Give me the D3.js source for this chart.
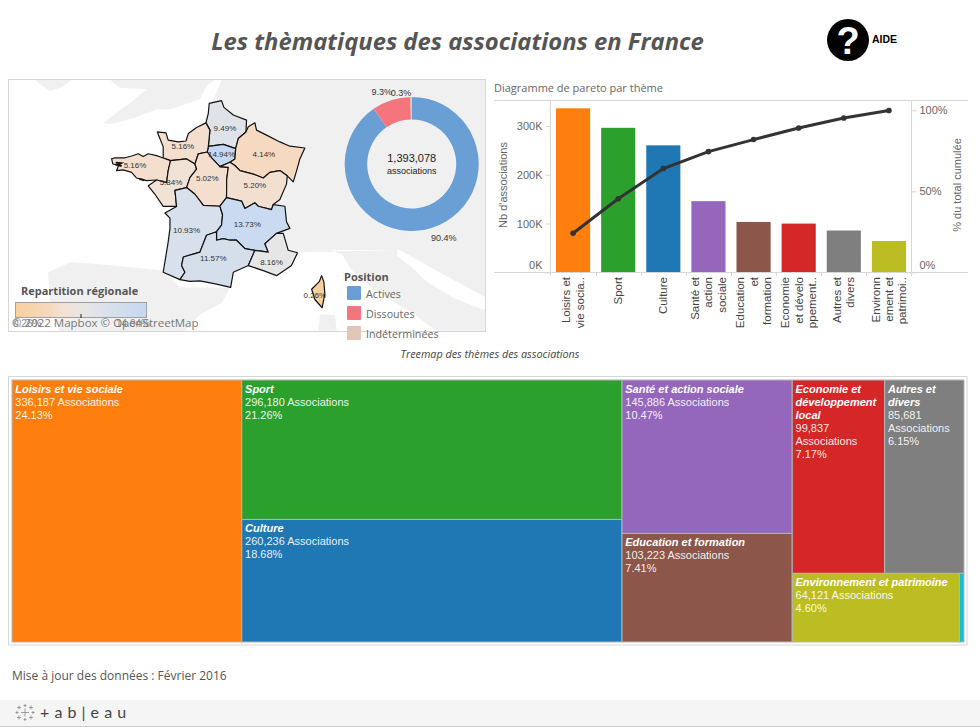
<!DOCTYPE html>
<html>
<head>
<meta charset="utf-8">
<script src="https://cdnjs.cloudflare.com/ajax/libs/d3/7.8.5/d3.min.js"></script>
<style>
body { margin: 0; background: #fff; }
svg { display: block; }
text { font-family: "Liberation Sans", Arial, sans-serif; }
.os { font-family: "Open Sans", sans-serif; }
</style>
</head>
<body>
<svg id="chart" width="980" height="727"></svg>
<script>
// themes, sorted like the pareto
var themes = ["Loisirs et vie sociale", "Sport", "Culture", "Santé et action sociale", "Education et formation", "Economie et développement local", "Autres et divers", "Environnement et patrimoine"];
var assocCounts = [336187, 296180, 260236, 145886, 103223, 99837, 85681, 64121];
var assocPct = ["24.13%", "21.26%", "18.68%", "10.47%", "7.41%", "7.17%", "6.15%", "4.60%"];
var cumulPct = [24.13, 45.39, 64.07, 74.54, 81.95, 89.12, 95.27, 99.87];
var themeColors = ["#ff7f0e", "#2ca02c", "#1f77b4", "#9467bd", "#8c564b", "#d62728", "#7f7f7f", "#bcbd22"];
var otherCount = 1727; // the small cyan cell, no label on it
var otherColor = "#17becf";

// wrapped labels
var tickLines = [["Loisirs et", "vie socia.."], ["Sport"], ["Culture"], ["Santé et", "action", "sociale"], ["Education", "et", "formation"], ["Economie", "et dévelo", "ppement.."], ["Autres et", "divers"], ["Environn", "ement et", "patrimoi.."]];
var treeNameLines = [["Loisirs et vie sociale"], ["Sport"], ["Culture"], ["Santé et action sociale"], ["Education et formation"], ["Economie et", "développement", "local"], ["Autres et", "divers"], ["Environnement et patrimoine"]];

// donut
var statusNames = ["Actives", "Dissoutes", "Indéterminées"];
var statusPct = [90.4, 9.3, 0.3];
var statusColors = ["#6a9fd6", "#f4757d", "#e0c6b6"];

// regions (lon, lat outlines)
var regionPct = [9.49, 14.94, 4.14, 5.16, 5.16, 5.84, 5.02, 5.20, 10.93, 13.73, 11.57, 8.16, 0.26];
var regionLabelLon = [2.88, 2.65, 5.53, 0.02, -3.24, -0.79, 1.68, 4.92, 0.27, 4.40, 2.09, 6.05, 9.0];
var regionLabelLat = [49.86, 48.72, 48.69, 49.05, 48.21, 47.44, 47.63, 47.30, 45.20, 45.49, 43.82, 43.62, 42.0];
var regionShapes = [
  [[1.81,50.93],[2.65,51.05],[2.81,50.76],[3.45,50.43],[4.35,50.21],[4.31,49.69],[3.79,49.40],[3.61,48.95],[2.77,49.14],[1.75,49.05],[1.86,49.77],[1.59,50.09],[1.75,50.50]],
  [[1.75,49.05],[2.77,49.14],[3.61,48.95],[3.56,48.49],[3.22,48.34],[2.54,48.14],[1.97,48.54],[1.68,48.80]],
  [[3.61,48.95],[3.79,49.40],[4.31,49.69],[4.47,49.92],[4.92,50.09],[5.03,49.77],[5.71,49.55],[6.62,49.25],[7.30,49.06],[8.32,48.98],[7.98,48.49],[7.76,47.96],[7.53,47.44],[7.12,47.72],[6.62,47.96],[5.94,47.88],[5.49,47.62],[4.81,47.80],[3.90,47.96],[3.56,48.19],[3.22,48.34],[3.56,48.49]],
  [[-1.72,49.69],[-1.13,49.65],[-0.98,49.33],[-0.29,49.25],[0.23,49.29],[0.39,49.62],[0.95,49.89],[1.59,50.09],[1.86,49.77],[1.75,49.05],[1.68,48.80],[1.07,48.72],[0.84,48.26],[0.27,48.49],[-0.82,48.41],[-1.32,48.53],[-1.32,49.03]],
  [[-4.83,48.49],[-4.6,48.54],[-3.92,48.54],[-3.47,48.62],[-3.02,48.72],[-2.68,48.6],[-2.34,48.72],[-1.77,48.64],[-1.32,48.53],[-0.82,48.41],[-0.98,47.96],[-1.09,47.41],[-1.77,47.53],[-2.45,47.5],[-3.13,47.62],[-3.47,47.88],[-4.04,47.99],[-4.49,47.96],[-4.35,48.2],[-4.75,48.26]],
  [[-0.82,48.41],[0.27,48.49],[0.84,48.26],[0.95,48.03],[0.50,47.64],[0.27,47.18],[-0.52,47.05],[-0.41,46.30],[-1.32,46.30],[-1.88,46.87],[-2.34,47.26],[-1.77,47.53],[-1.09,47.41],[-0.98,47.96]],
  [[1.07,48.72],[1.68,48.80],[1.97,48.54],[2.54,48.14],[3.11,48.11],[3.0,47.56],[2.99,46.71],[2.54,46.31],[1.41,46.35],[0.84,46.87],[0.27,47.18],[0.50,47.64],[0.95,48.03],[0.84,48.26]],
  [[3.22,48.34],[3.56,48.19],[3.90,47.96],[4.81,47.80],[5.49,47.62],[5.94,47.88],[6.62,47.96],[7.12,47.72],[7.07,47.34],[6.62,46.63],[6.17,46.39],[6.05,46.15],[5.15,46.31],[4.92,46.47],[4.24,46.2],[4.01,46.55],[2.99,46.71],[3.0,47.56],[3.11,48.11],[2.54,48.14]],
  [[-0.52,47.05],[0.27,47.18],[0.84,46.87],[1.41,46.35],[2.54,46.31],[2.72,45.91],[2.65,45.42],[2.31,45.1],[1.63,44.93],[1.18,44.11],[0.05,43.87],[-0.07,43.45],[0.16,43.12],[-0.18,42.75],[-1.32,43.12],[-0.98,44.61],[-0.86,45.26],[-0.86,45.75],[-1.20,45.99],[-0.41,46.30]],
  [[2.54,46.31],[2.99,46.71],[4.01,46.55],[4.24,46.2],[4.92,46.47],[5.15,46.31],[6.05,46.15],[6.17,46.39],[6.96,46.31],[7.07,45.58],[7.3,45.26],[6.39,45.02],[5.6,44.52],[5.83,44.11],[4.92,44.2],[4.24,44.28],[3.67,44.69],[3.22,44.69],[2.77,44.77],[2.31,44.69],[2.31,45.1],[2.65,45.42],[2.72,45.91]],
  [[1.63,44.93],[2.31,45.1],[2.31,44.69],[2.77,44.77],[3.22,44.69],[3.67,44.69],[4.24,44.28],[4.92,44.2],[4.47,43.45],[3.45,43.12],[3.27,42.36],[2.31,42.53],[1.18,42.69],[0.5,42.66],[-0.18,42.75],[0.16,43.12],[-0.07,43.45],[0.05,43.87],[1.18,44.11]],
  [[6.39,45.02],[6.85,45.02],[7.19,44.2],[7.82,44.08],[7.41,43.45],[6.39,42.95],[5.49,43.2],[4.47,43.45],[4.92,44.2],[5.83,44.11],[5.6,44.52]],
  [[9.46,42.95],[9.61,42.65],[9.68,42.05],[9.5,41.33],[9.0,41.75],[8.78,42.27],[9.3,42.65]]
];
// dark blobs on the ragged coast (Brest, Morbihan)
var coastBits = [
  [[-4.55,48.32],[-4.2,48.3],[-4.42,48.22],[-4.15,48.17]],
  [[-2.95,47.58],[-2.6,47.52]]
];
var regionColorStops = [0.26, 4.14, 5.5, 8.16, 14.94];
var regionColorRange = ["#f8d09c", "#f5d9c0", "#f3e1d4", "#e6e6e6", "#c4d8f2"];

// background land
var landShapes = [
  [[-10.04,51.93],[-7.52,51.93],[-8.2,51.63],[-9.02,51.46],[-9.56,51.68]],
  [[-4.94,51.93],[-4.26,51.59],[-2.42,51.55],[-3.71,50.9],[-5.41,50.08],[-4.94,50.03],[-3.37,50.29],[-1.74,50.68],[-0.86,50.68],[1.18,51.12],[1.66,51.7],[2.2,51.93]],
  [[2.68,51.93],[20.64,51.93],[20.64,44.21],[10.91,44.21],[7.99,44.11],[5.95,43.5],[3.22,44.11],[1.86,47.96],[1.52,50.28]],
  [[14.59,44.21],[14.59,43.96],[15.6,43.36],[16.69,42.61],[18.39,41.85],[20.43,41.23],[20.64,41.23],[20.64,40],[17.51,40],[15.81,40.97],[14.45,41.59],[13.09,42.2],[11.52,43.21],[10.84,44.01],[9.69,44.26],[7.99,44.11]],
  [[14.79,44.21],[20.64,44.21],[20.64,41.85],[17.51,43.11]],
  [[-9.16,43.11],[-7.66,43.61],[-5.62,43.51],[-1.33,43.21],[-0.18,42.36],[3.22,42.36],[2.68,41.59],[1.18,40.97],[-0.04,40],[-8.34,40],[-9.02,41.59]],
  [[9.35,40.97],[10.37,40.97],[10.5,40],[9.21,40]]
];

// tableau mark: dx, dy, half size of each little cross
var logoCrosses = [[0,0,4],[-6,-5,2],[6,-5,2],[-6,5,2],[6,5,2],[0,-7,1.5],[0,7,1.5],[-8,0,1.5],[8,0,1.5]];

var svg = d3.select("#chart");
var fmt = d3.format(",");

function drawHeader() {
    svg.append("text").attr("class", "os").attr("x", 457.5).attr("y", 50)
        .attr("text-anchor", "middle").attr("font-size", 23.8).attr("font-weight", 700)
        .attr("font-style", "italic").attr("fill", "#555")
        .text("Les thèmatiques des associations en France");
    svg.append("circle").attr("cx", 848).attr("cy", 40).attr("r", 21).attr("fill", "#000");
    svg.append("text").attr("x", 848).attr("y", 54).attr("text-anchor", "middle")
        .attr("font-size", 38).attr("font-weight", 700).attr("fill", "#fff").text("?");
    svg.append("text").attr("x", 872).attr("y", 43).attr("font-size", 10.5)
        .attr("font-weight", 700).attr("fill", "#000").text("AIDE");
}

function drawMap() {
    var projection = d3.geoMercator().scale(842).translate([182.6, 975.9]);
    var px = function (d) { return projection(d)[0]; };
    var py = function (d) { return projection(d)[1]; };
    var outline = d3.line().x(px).y(py).curve(d3.curveLinearClosed);
    var regionColor = d3.scaleLinear().domain(regionColorStops).range(regionColorRange);

    svg.append("clipPath").attr("id", "mapClip").append("rect")
        .attr("x", 8.5).attr("y", 79.5).attr("width", 477).attr("height", 252);
    var map = svg.append("g").attr("clip-path", "url(#mapClip)");
    map.selectAll(".land").data(landShapes).enter().append("path").attr("class", "land")
        .attr("d", outline).attr("fill", "#f0f0f0");
    map.selectAll(".region").data(regionShapes).enter().append("path").attr("class", "region")
        .attr("d", outline)
        .attr("fill", function (d, i) { return regionColor(regionPct[i]); })
        .attr("stroke", "#111").attr("stroke-width", 1.2).attr("stroke-linejoin", "round");
    map.selectAll(".coast").data(coastBits).enter().append("path").attr("class", "coast")
        .attr("d", d3.line().x(px).y(py))
        .attr("fill", "none").attr("stroke", "#111").attr("stroke-width", 2);

    svg.append("rect").attr("x", 8.5).attr("y", 79.5).attr("width", 477).attr("height", 252)
        .attr("fill", "none").attr("stroke", "#d6d6d6");

    svg.selectAll(".regionLabel").data(regionPct).enter().append("text").attr("class", "regionLabel")
        .attr("x", function (d, i) { return px([regionLabelLon[i], regionLabelLat[i]]); })
        .attr("y", function (d, i) { return py([regionLabelLon[i], regionLabelLat[i]]) + 3; })
        .attr("text-anchor", "middle").attr("font-size", 8).attr("fill", "#333")
        .text(function (d) { return d.toFixed(2) + "%"; });

    // colour legend
    var grad = svg.append("linearGradient").attr("id", "regionGrad");
    regionColorStops.forEach(function (s, i) {
        grad.append("stop").attr("offset", (s - 0.26) / 14.68).attr("stop-color", regionColorRange[i]);
    });
    svg.append("text").attr("class", "os").attr("x", 21).attr("y", 295).attr("font-size", 11)
        .attr("font-weight", 700).attr("fill", "#555").text("Repartition régionale");
    svg.append("rect").attr("x", 15.5).attr("y", 302.5).attr("width", 131).attr("height", 15)
        .attr("fill", "url(#regionGrad)").attr("stroke", "#a0a0a0");
    svg.append("line").attr("x1", 81).attr("x2", 81).attr("y1", 314).attr("y2", 318).attr("stroke", "#222");
    svg.append("text").attr("x", 13).attr("y", 327).attr("font-size", 10).attr("fill", "#888").text("0.26%");
    svg.append("text").attr("x", 116).attr("y", 327).attr("font-size", 10).attr("fill", "#888").text("14.94%");
    svg.append("text").attr("class", "os").attr("x", 12).attr("y", 327).attr("font-size", 11.5).attr("fill", "#777")
        .text("© 2022 Mapbox  © OpenStreetMap");

    // status legend
    svg.append("text").attr("class", "os").attr("x", 344).attr("y", 281).attr("font-size", 11)
        .attr("font-weight", 700).attr("fill", "#555").text("Position");
    var item = svg.selectAll(".status").data(statusNames).enter().append("g").attr("class", "status")
        .attr("transform", function (d, i) { return "translate(347," + (286 + i * 20) + ")"; });
    item.append("rect").attr("width", 14).attr("height", 14).attr("rx", 1)
        .attr("fill", function (d, i) { return statusColors[i]; });
    item.append("text").attr("class", "os").attr("x", 19).attr("y", 11.5).attr("font-size", 10.7)
        .attr("fill", "#666").text(function (d) { return d; });
}

function drawDonut() {
    var arc = d3.arc().innerRadius(44.5).outerRadius(67);
    var pie = d3.pie().sort(null);
    var g = svg.append("g").attr("transform", "translate(411.7,164)");
    g.selectAll("path").data(pie(statusPct)).enter().append("path")
        .attr("d", arc)
        .attr("fill", function (d, i) { return statusColors[i]; });
    g.append("text").attr("y", -2).attr("text-anchor", "middle").attr("font-size", 11).attr("fill", "#222").text(fmt(1393078));
    g.append("text").attr("y", 10).attr("text-anchor", "middle").attr("font-size", 9).attr("fill", "#222").text("associations");

    var labelArc = d3.arc().innerRadius(78).outerRadius(78);
    var nudge = [[9, 3], [-6, 5], [-10, 10]];
    g.selectAll(".pct").data(pie(statusPct)).enter().append("text").attr("class", "pct")
        .attr("transform", function (d, i) {
            var c = labelArc.centroid(d);
            return "translate(" + (c[0] + nudge[i][0]) + "," + (c[1] + nudge[i][1]) + ")";
        })
        .attr("text-anchor", "middle").attr("font-size", 9).attr("fill", "#333")
        .text(function (d) { return d.data + "%"; });
}

function drawPareto() {
    var x = d3.scaleBand().domain(themes).range([550.5, 911.5]).paddingInner(0.244).paddingOuter(0.122);
    var y = d3.scaleLinear().domain([0, 352600]).range([272.3, 100.3]);
    var yPct = d3.scaleLinear().domain([0, 106.2]).range([272.3, 100.3]);
    var grey = "#d6d6d6";

    svg.append("text").attr("class", "os").attr("x", 494).attr("y", 92).attr("font-size", 11)
        .attr("fill", "#666").text("Diagramme de pareto par thème");

    svg.selectAll(".bar").data(themes).enter().append("rect").attr("class", "bar")
        .attr("x", function (d) { return x(d); })
        .attr("width", x.bandwidth())
        .attr("y", function (d, i) { return y(assocCounts[i]); })
        .attr("height", function (d, i) { return y(0) - y(assocCounts[i]); })
        .attr("fill", function (d, i) { return themeColors[i]; });

    // frame lines
    [100.5, 272.5].forEach(function (p) {
        svg.append("line").attr("x1", 494).attr("x2", 968).attr("y1", p).attr("y2", p).attr("stroke", grey);
    });

    var left = svg.append("g").attr("transform", "translate(550.5,0)")
        .call(d3.axisLeft(y).tickValues([0, 100000, 200000, 300000]).tickSize(5).tickPadding(3)
            .tickFormat(function (d) { return (d / 1000) + "K"; }));
    var right = svg.append("g").attr("transform", "translate(911.5,0)")
        .call(d3.axisRight(yPct).tickValues([0, 50, 100]).tickSize(5).tickPadding(3)
            .tickFormat(function (d) { return d + "%"; }));
    [left, right].forEach(function (a) {
        a.selectAll("line,path").attr("stroke", grey);
        a.selectAll("text").attr("font-size", 11).attr("fill", "#666").attr("font-family", "Liberation Sans");
        a.selectAll(".tick").filter(function (d) { return d == 0; }).select("text").attr("dy", "-0.32em");
    });
    left.select(".domain").attr("d", "M0,100V276");
    right.select(".domain").attr("d", "M0,100V276");

    // separators under the bars
    svg.selectAll(".sep").data(themes.slice(1)).enter().append("line").attr("class", "sep")
        .attr("x1", function (d) { return Math.round(x(d) - x.step() * 0.122) + 0.5; })
        .attr("x2", function (d) { return Math.round(x(d) - x.step() * 0.122) + 0.5; })
        .attr("y1", 272).attr("y2", 276).attr("stroke", grey);

    var tick = svg.selectAll(".xlabel").data(themes).enter().append("g").attr("class", "xlabel")
        .attr("transform", function (d) { return "translate(" + (x(d) + x.bandwidth() / 2) + ",277) rotate(-90)"; });
    tick.selectAll("text").data(function (d, i) { return tickLines[i]; }).enter().append("text")
        .attr("text-anchor", "end")
        .attr("y", function (d, i, nodes) { return (i - (nodes.length - 1) / 2) * 13.3 + 4; })
        .attr("font-size", 11.5).attr("fill", "#444")
        .text(function (d) { return d; });

    var line = d3.line()
        .x(function (d, i) { return x(themes[i]) + x.bandwidth() / 2; })
        .y(function (d) { return yPct(d); });
    svg.append("path").attr("d", line(cumulPct)).attr("fill", "none").attr("stroke", "#333").attr("stroke-width", 3);
    svg.selectAll(".dot").data(cumulPct).enter().append("circle").attr("class", "dot")
        .attr("cx", function (d, i) { return x(themes[i]) + x.bandwidth() / 2; })
        .attr("cy", function (d) { return yPct(d); })
        .attr("r", 2.8).attr("fill", "#333");

    svg.append("text").attr("transform", "translate(507,185) rotate(-90)").attr("text-anchor", "middle")
        .attr("font-size", 11).attr("fill", "#666").text("Nb d'associations");
    svg.append("text").attr("transform", "translate(961,185) rotate(-90)").attr("text-anchor", "middle")
        .attr("font-size", 11).attr("fill", "#666").text("% du total cumulée");
}

function drawTreemap() {
    svg.append("text").attr("class", "os").attr("x", 490).attr("y", 358).attr("text-anchor", "middle")
        .attr("font-size", 10.8).attr("font-style", "italic").attr("fill", "#444")
        .text("Treemap des thèmes des associations");
    svg.append("rect").attr("x", 8.5).attr("y", 376.5).attr("width", 958.5).attr("height", 268.5)
        .attr("fill", "none").attr("stroke", "#d6d6d6");

    function leaf(i) { return { idx: i, value: assocCounts[i] }; }
    var tree = { children: [
        leaf(0),
        { children: [leaf(1), leaf(2)] },
        { children: [leaf(3), leaf(4)] },
        { children: [
            { children: [leaf(5), leaf(6)] },
            { children: [leaf(7), { idx: -1, value: otherCount }] }
        ] }
    ] };
    var root = d3.hierarchy(tree).sum(function (d) { return d.value || 0; });
    d3.treemap()
        .size([952, 262])
        .tile(function (node, x0, y0, x1, y1) {
            if (node.depth % 2 == 0) d3.treemapDice(node, x0, y0, x1, y1);
            else d3.treemapSlice(node, x0, y0, x1, y1);
        })(root);

    var cell = svg.append("g").attr("transform", "translate(12,380)")
        .selectAll(".cell").data(root.leaves()).enter().append("g").attr("class", "cell")
        .attr("transform", function (d) { return "translate(" + d.x0 + "," + d.y0 + ")"; });
    cell.append("rect")
        .attr("width", function (d) { return d.x1 - d.x0; })
        .attr("height", function (d) { return d.y1 - d.y0; })
        .attr("fill", function (d) { return d.data.idx < 0 ? otherColor : themeColors[d.data.idx]; })
        .attr("stroke", "#b4b4b4").attr("stroke-width", 1);

    cell.filter(function (d) { return d.data.idx >= 0; }).each(function (d) {
        var i = d.data.idx, g = d3.select(this), row = 0;
        treeNameLines[i].forEach(function (t) {
            g.append("text").attr("x", 3.3).attr("y", 12.7 + 13 * row++).attr("font-size", 11)
                .attr("font-weight", 700).attr("font-style", "italic").attr("fill", "#fff").text(t);
        });
        var narrow = d.x1 - d.x0 < 110;
        var rest = narrow ? [fmt(assocCounts[i]), "Associations", assocPct[i]] : [fmt(assocCounts[i]) + " Associations", assocPct[i]];
        rest.forEach(function (t) {
            g.append("text").attr("x", 3.3).attr("y", 12.7 + 13 * row++).attr("font-size", 11)
                .attr("fill", "#fff").attr("fill-opacity", 0.92).text(t);
        });
    });
}

function drawFooter() {
    svg.append("text").attr("class", "os").attr("x", 12).attr("y", 680).attr("font-size", 12)
        .attr("fill", "#555").text("Mise à jour des données : Février 2016");
    svg.append("rect").attr("x", 0).attr("y", 700).attr("width", 980).attr("height", 27).attr("fill", "#f5f5f5");
    svg.append("line").attr("x1", 0).attr("x2", 980).attr("y1", 726.5).attr("y2", 726.5).attr("stroke", "#ccc");
    var logo = svg.append("g").attr("transform", "translate(25,712.5)");
    logo.selectAll("path").data(logoCrosses).enter().append("path")
        .attr("d", function (d) {
            return "M" + (d[0] - d[2]) + "," + d[1] + "H" + (d[0] + d[2]) + "M" + d[0] + "," + (d[1] - d[2]) + "V" + (d[1] + d[2]);
        })
        .attr("stroke", "#888").attr("stroke-width", 0.8);
    svg.append("text").attr("x", 40).attr("y", 718).attr("font-size", 16).attr("letter-spacing", 0.5)
        .attr("fill", "#444").attr("style", "font-family:Lato;font-weight:400").text("+ a b | e a u");
}

drawHeader();
drawMap();
drawDonut();
drawPareto();
drawTreemap();
drawFooter();
</script>
</body>
</html>
